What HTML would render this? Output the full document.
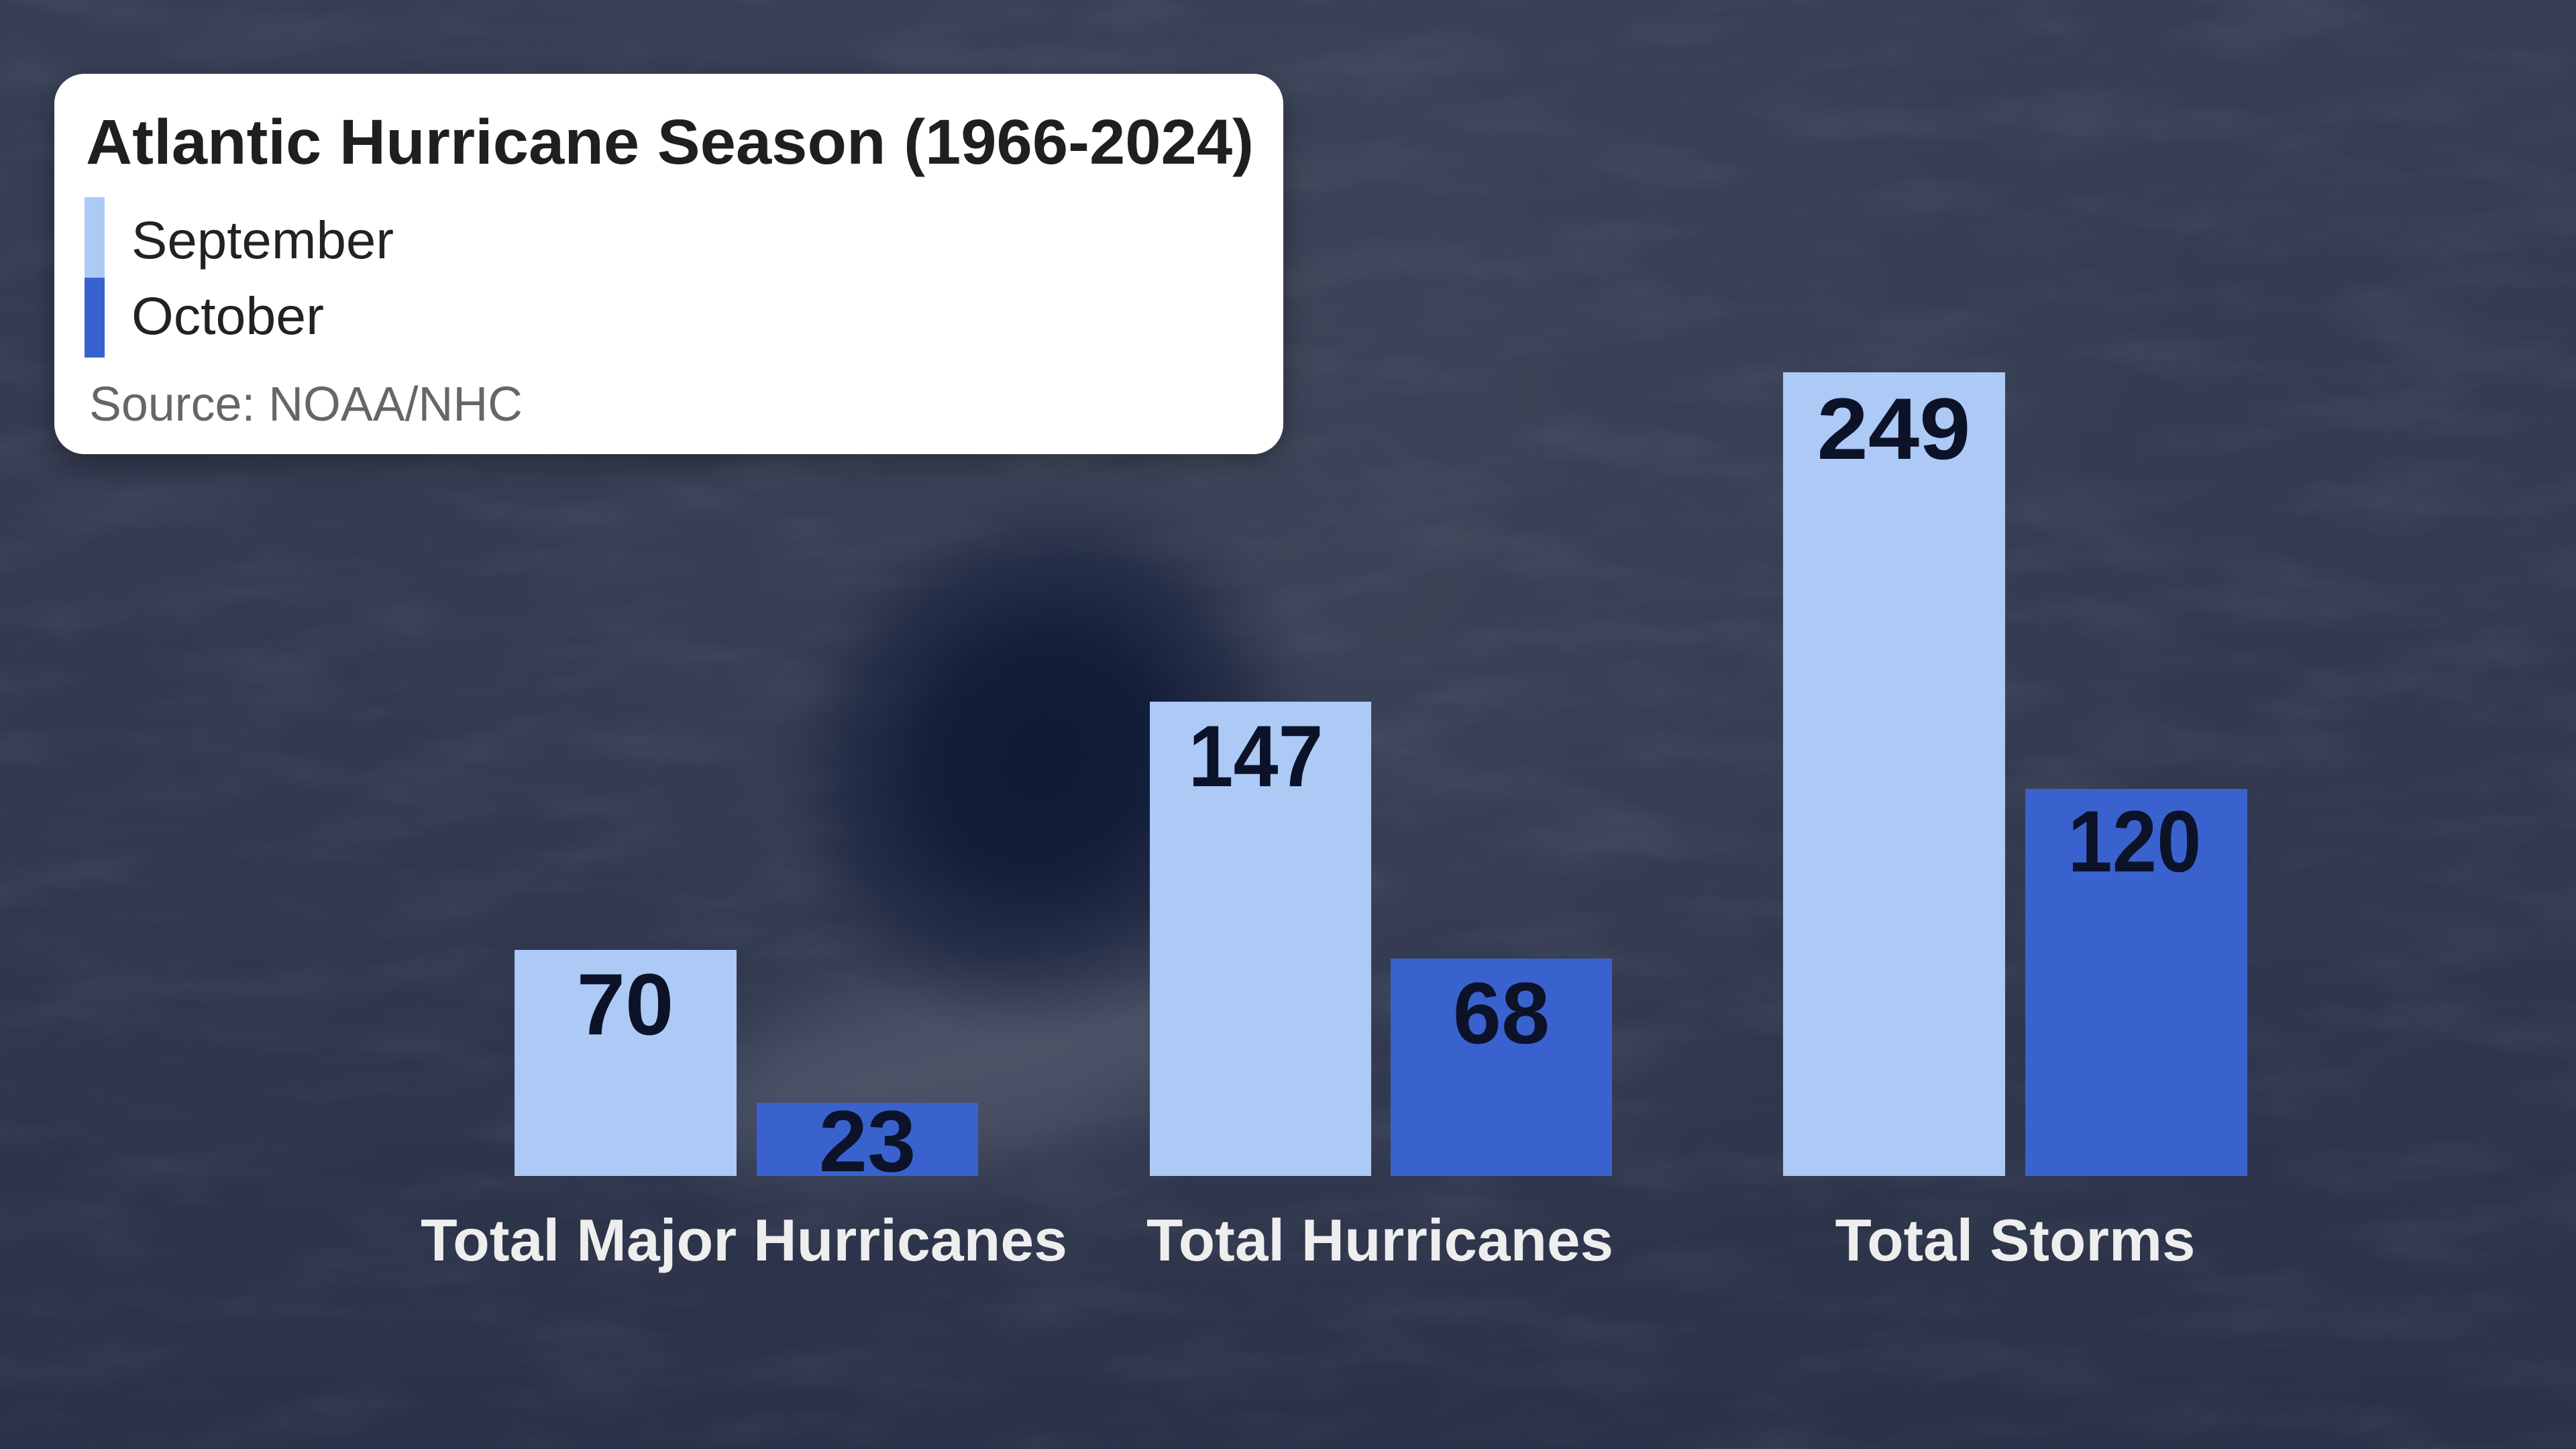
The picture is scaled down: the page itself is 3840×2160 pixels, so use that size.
<!DOCTYPE html>
<html>
<head>
<meta charset="utf-8">
<style>
  html, body { margin: 0; padding: 0; width: 3840px; height: 2160px; overflow: hidden; background: #323a50; }
  svg { display: block; }
  text { font-family: "Liberation Sans", "DejaVu Sans", sans-serif; }
</style>
</head>
<body>
<svg width="3840" height="2160" viewBox="0 0 3840 2160" xmlns="http://www.w3.org/2000/svg">
  <defs>
    <linearGradient id="bg" x1="0" y1="0" x2="0" y2="1">
      <stop offset="0" stop-color="#373e54"/>
      <stop offset="0.5" stop-color="#323a50"/>
      <stop offset="1" stop-color="#2a3148"/>
    </linearGradient>
    <radialGradient id="haze" cx="1900" cy="700" r="1400" gradientUnits="userSpaceOnUse">
      <stop offset="0" stop-color="#40475b" stop-opacity="0.7"/>
      <stop offset="1" stop-color="#40475b" stop-opacity="0"/>
    </radialGradient>
    <radialGradient id="eye" cx="0" cy="0" r="1" gradientUnits="userSpaceOnUse"
      gradientTransform="translate(1555 1130) rotate(20) scale(400 440)">
      <stop offset="0" stop-color="#0f1a36" stop-opacity="1"/>
      <stop offset="0.4" stop-color="#111c38" stop-opacity="0.95"/>
      <stop offset="0.7" stop-color="#1a243f" stop-opacity="0.65"/>
      <stop offset="1" stop-color="#2a3249" stop-opacity="0"/>
    </radialGradient>
    <filter id="blur60" x="-50%" y="-50%" width="200%" height="200%">
      <feGaussianBlur stdDeviation="60"/>
    </filter>
    <filter id="noise" x="0" y="0" width="100%" height="100%">
      <feTurbulence type="fractalNoise" baseFrequency="0.004 0.014" numOctaves="4" seed="7"/>
      <feColorMatrix type="matrix" values="0 0 0 0 0.75  0 0 0 0 0.78  0 0 0 0 0.85  0 0 0 1.4 -0.6"/>
    </filter>
    <filter id="shadow" x="-10%" y="-10%" width="120%" height="130%">
      <feDropShadow dx="0" dy="12" stdDeviation="22" flood-color="#000" flood-opacity="0.35"/>
    </filter>
  </defs>

  <!-- background -->
  <rect x="0" y="0" width="3840" height="2160" fill="url(#bg)"/>
  <rect x="0" y="0" width="3840" height="2160" fill="url(#haze)"/>
  <rect x="0" y="0" width="3840" height="2160" filter="url(#noise)" opacity="0.09"/>
  <ellipse cx="1430" cy="1590" rx="400" ry="140" transform="rotate(-10 1430 1590)" fill="#50576b" opacity="0.85" filter="url(#blur60)"/>
  <ellipse cx="1555" cy="1130" rx="400" ry="440" transform="rotate(20 1555 1130)" fill="url(#eye)"/>

  <!-- legend card -->
  <rect x="81" y="110" width="1832" height="567" rx="45" ry="45" fill="#ffffff" filter="url(#shadow)"/>
  <text x="128" y="244" font-size="95" font-weight="bold" fill="#1f1f1f" textLength="1741" lengthAdjust="spacingAndGlyphs">Atlantic Hurricane Season (1966-2024)</text>
  <rect x="126" y="294" width="30" height="120" fill="#adc9f5"/>
  <rect x="126" y="414" width="30" height="119" fill="#3a62cf"/>
  <text x="196" y="385" font-size="79" fill="#222222" textLength="391" lengthAdjust="spacingAndGlyphs">September</text>
  <text x="196" y="498" font-size="79" fill="#222222" textLength="287" lengthAdjust="spacingAndGlyphs">October</text>
  <text x="133" y="627" font-size="72" fill="#666666" textLength="646" lengthAdjust="spacingAndGlyphs">Source: NOAA/NHC</text>

  <!-- bars -->
  <rect x="767" y="1416" width="331" height="337" fill="#adc9f5"/>
  <rect x="1128" y="1644" width="330" height="109" fill="#3a62cf"/>
  <rect x="1714" y="1046" width="330" height="707" fill="#adc9f5"/>
  <rect x="2073" y="1429" width="330" height="324" fill="#3a62cf"/>
  <rect x="2658" y="555" width="331" height="1198" fill="#adc9f5"/>
  <rect x="3019" y="1176" width="331" height="577" fill="#3a62cf"/>

  <!-- value labels -->
  <g font-size="130" font-weight="bold" fill="#0c1329" text-anchor="middle">
    <text x="932" y="1542">70</text>
    <text x="1293" y="1746">23</text>
    <text x="1872" y="1172" textLength="201" lengthAdjust="spacingAndGlyphs">147</text>
    <text x="2238" y="1555">68</text>
    <text x="2823" y="684" textLength="229" lengthAdjust="spacingAndGlyphs">249</text>
    <text x="3182" y="1299" textLength="199" lengthAdjust="spacingAndGlyphs">120</text>
  </g>

  <!-- category labels -->
  <g font-size="88" font-weight="bold" fill="#eeeeee" text-anchor="middle">
    <text x="1109" y="1879" textLength="964" lengthAdjust="spacingAndGlyphs">Total Major Hurricanes</text>
    <text x="2057" y="1879" textLength="696" lengthAdjust="spacingAndGlyphs">Total Hurricanes</text>
    <text x="3004" y="1879" textLength="537" lengthAdjust="spacingAndGlyphs">Total Storms</text>
  </g>
</svg>
</body>
</html>
